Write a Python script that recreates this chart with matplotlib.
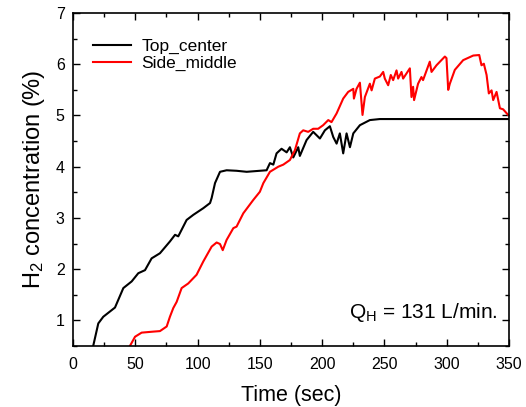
import matplotlib
matplotlib.use("Agg")
import matplotlib.pyplot as plt
from matplotlib.ticker import MultipleLocator

plt.rcParams['font.family'] = ['Liberation Sans', 'DejaVu Sans']
plt.rcParams['mathtext.fontset'] = 'custom'
plt.rcParams['mathtext.rm'] = 'Liberation Sans'
plt.rcParams['mathtext.it'] = 'Liberation Sans:italic'

top_t = [16.3, 20.3, 24.3, 33.7, 40.4, 47.1, 52.4, 57.8, 63.1, 69.8, 77.8, 81.9, 84.5,
         91.2, 96.6, 104.6, 110, 111.3, 114, 118, 123.3, 131.3, 139.4, 150, 155.4,
         158.1, 160.8, 163.4, 167.4, 171.5, 174.1, 176.8, 180.8, 182.1, 187.5, 192.8,
         198.2, 202.2, 206.2, 208.9, 211.6, 214.2, 216.9, 219.6, 222.3, 225, 230.3,
         238.3, 246.3, 350]
top_v = [0.51, 0.94, 1.07, 1.25, 1.63, 1.76, 1.92, 1.98, 2.21, 2.31, 2.54, 2.67, 2.64,
         2.96, 3.06, 3.19, 3.29, 3.39, 3.68, 3.90, 3.93, 3.92, 3.90, 3.92, 3.93,
         4.07, 4.04, 4.26, 4.35, 4.28, 4.38, 4.18, 4.38, 4.21, 4.52, 4.68,
         4.55, 4.71, 4.79, 4.58, 4.45, 4.65, 4.26, 4.65, 4.38, 4.65, 4.81,
         4.91, 4.93, 4.93]

side_t = [45.7, 49.8, 55.1, 64.5, 69.8, 75.2, 77.8, 80.5, 83.2, 87.2, 92.5, 99.2, 104.6,
          111.3, 115.3, 118, 120.2, 123.3, 128.7, 131.3, 136.7, 144.7, 150, 152.8, 158.1,
          164.8, 168.8, 174.1, 178.1, 182.1, 184.8, 188.8, 192.8, 196.8, 200.8, 204.9,
          207.5, 211.6, 216.9, 220.9, 225, 225.5, 227.6, 230.3, 232.4, 234.3, 238.3,
          239.7, 242.3, 246.3, 249, 250.3, 253, 255.1, 257, 259.7, 261, 263.7, 265,
          270.4, 271.7, 273, 273.8, 277, 279.7, 281, 286.4, 287.8, 291.8, 298.5, 299.8,
          301.2, 302.5, 306.5, 313.2, 321.3, 326.1, 327.9, 329.8, 332, 333.8, 336,
          337.3, 340, 342.7, 345.3, 349.3]
side_v = [0.50, 0.68, 0.76, 0.78, 0.79, 0.88, 1.07, 1.24, 1.36, 1.63, 1.72, 1.89, 2.15,
          2.44, 2.52, 2.49, 2.37, 2.57, 2.80, 2.83, 3.09, 3.35, 3.51, 3.68, 3.90,
          4.00, 4.04, 4.13, 4.32, 4.65, 4.71, 4.68, 4.74, 4.74, 4.81, 4.91,
          4.87, 5.04, 5.33, 5.46, 5.52, 5.33, 5.52, 5.64, 5.01, 5.36, 5.62,
          5.49, 5.72, 5.76, 5.85, 5.72, 5.59, 5.79, 5.69, 5.88, 5.72, 5.85, 5.72,
          5.92, 5.36, 5.56, 5.30, 5.62, 5.75, 5.69, 6.05, 5.85, 5.98, 6.15, 6.12,
          5.50, 5.62, 5.89, 6.08, 6.17, 6.18, 5.98, 6.01, 5.79, 5.43, 5.49,
          5.30, 5.46, 5.14, 5.12, 5.01]

x_ticks = [0, 50, 100, 150, 200, 250, 300, 350]
y_ticks = [1, 2, 3, 4, 5, 6, 7]

fig = plt.figure(figsize=(5.26, 4.07), dpi=100)
ax = fig.add_axes([0.1388, 0.150, 0.8289, 0.818])
ax.plot(top_t, top_v, color='black', lw=1.5, label='Top_center')
ax.plot(side_t, side_v, color='#ff0000', lw=1.5, label='Side_middle')

ax.set_xlim(0, 350)
ax.set_ylim(0.5, 7)
ax.set_xticks(x_ticks)
ax.set_yticks(y_ticks)
ax.xaxis.set_minor_locator(MultipleLocator(25))
ax.yaxis.set_minor_locator(MultipleLocator(0.5))
ax.tick_params(which='both', direction='in', top=True, right=True, labelsize=11.5, width=1)
ax.tick_params(which='major', length=5)
ax.tick_params(which='minor', length=3)
ax.tick_params(axis='x', pad=8)
ax.tick_params(axis='y', pad=6)
for s in ax.spines.values():
    s.set_linewidth(1.2)

ax.set_xlabel('Time (sec)', fontsize=15.5, labelpad=9)
ax.set_ylabel(r'H$_\mathregular{2}$ concentration (%)', fontsize=17, labelpad=6)

ax.legend(loc='upper left', bbox_to_anchor=(0.01, 0.97), frameon=False, fontsize=12.5,
          handlelength=2.2, handletextpad=0.6, labelspacing=0.12)
ax.text(0.975, 0.1, r'Q$_\mathregular{H}$ = 131 L/min.', transform=ax.transAxes,
        ha='right', va='center', fontsize=15)

fig.savefig('out.png', dpi=100)
